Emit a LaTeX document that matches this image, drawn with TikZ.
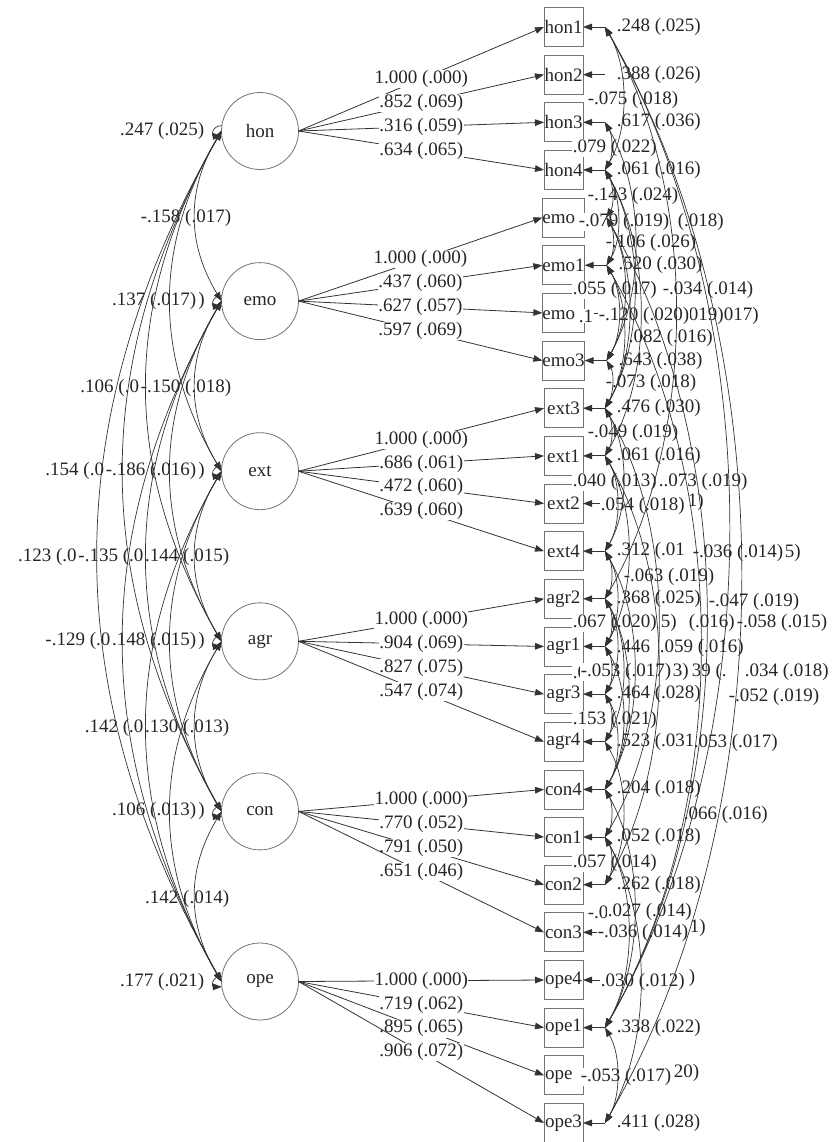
\documentclass[tikz,border=0pt]{standalone}
\usepackage{fontspec}
\setmainfont{Liberation Serif}
\usetikzlibrary{positioning, arrows.meta}

\begin{document}
\begin{tikzpicture}[
    x=0.5pt, y=0.5pt,
    >={Triangle[length=4.5pt, width=3.3pt]},
    font=\fontsize{9.5}{11}\selectfont,
    lat/.style={circle, draw=black!55, line width=0.4pt, minimum size=38.5pt,
    inner sep=0pt, outer sep=0pt, text=black!85},
    ind/.style={rectangle, draw=black!55, line width=0.4pt, minimum size=19.5pt,
    inner sep=0pt, outer sep=0pt, text=black!85},
    lbl/.style={fill=white, inner sep=0.25pt, text=black!85},
    load/.style={->, draw=black!80, line width=0.4pt},
    cov/.style={<->, draw=black!80, line width=0.35pt},
    selfloop/.style={->, draw=black!80, line width=0.35pt}
]
\useasboundingbox (0,0) rectangle (832,-1142);

% latent factors
\node[lat] (hon) at (260,-131) {hon};
\node[lat, below=46.55pt of hon] (emo) {emo};
\node[lat, below=46.55pt of emo] (ext) {ext};
\node[lat, below=46.55pt of ext] (agr) {agr};
\node[lat, below=46.55pt of agr] (con) {con};
\node[lat, below=46.55pt of con] (ope) {ope};

% indicators
\node[ind] (hon1) at (563.5,-27) {hon1};
\node[ind, below=4.325pt of hon1] (hon2) {hon2};
\node[ind, below=4.325pt of hon2] (hon3) {hon3};
\node[ind, below=4.325pt of hon3] (hon4) {hon4};
\node[ind, below=4.325pt of hon4] (emo4) {emo\phantom{4}};
\node[ind, below=4.325pt of emo4] (emo1) {emo1};
\node[ind, below=4.325pt of emo1] (emo2) {emo\phantom{2}};
\node[ind, below=4.325pt of emo2] (emo3) {emo3};
\node[ind, below=4.325pt of emo3] (ext3) {ext3};
\node[ind, below=4.325pt of ext3] (ext1) {ext1};
\node[ind, below=4.325pt of ext1] (ext2) {ext2};
\node[ind, below=4.325pt of ext2] (ext4) {ext4};
\node[ind, below=4.325pt of ext4] (agr2) {agr2};
\node[ind, below=4.325pt of agr2] (agr1) {agr1};
\node[ind, below=4.325pt of agr1] (agr3) {agr3};
\node[ind, below=4.325pt of agr3] (agr4) {agr4};
\node[ind, below=4.325pt of agr4] (con4) {con4};
\node[ind, below=4.325pt of con4] (con1) {con1};
\node[ind, below=4.325pt of con1] (con2) {con2};
\node[ind, below=4.325pt of con2] (con3) {con3};
\node[ind, below=4.325pt of con3] (ope4) {ope4};
\node[ind, below=4.325pt of ope4] (ope1) {ope1};
\node[ind, below=4.325pt of ope1] (ope2) {ope\phantom{2}};
\node[ind, below=4.325pt of ope2] (ope3) {ope3};

% loadings
\draw[load] (hon.east) -- node[lbl] {1.000 (.000)} (hon1.west);
\draw[load] (hon.east) -- node[lbl] {.852 (.069)} (hon2.west);
\draw[load] (hon.east) -- node[lbl] {.316 (.059)} (hon3.west);
\draw[load] (hon.east) -- node[lbl] {.634 (.065)} (hon4.west);
\draw[load] (emo.east) -- node[lbl] {1.000 (.000)} (emo4.west);
\draw[load] (emo.east) -- node[lbl] {.437 (.060)} (emo1.west);
\draw[load] (emo.east) -- node[lbl] {.627 (.057)} (emo2.west);
\draw[load] (emo.east) -- node[lbl] {.597 (.069)} (emo3.west);
\draw[load] (ext.east) -- node[lbl] {1.000 (.000)} (ext3.west);
\draw[load] (ext.east) -- node[lbl] {.686 (.061)} (ext1.west);
\draw[load] (ext.east) -- node[lbl] {.472 (.060)} (ext2.west);
\draw[load] (ext.east) -- node[lbl] {.639 (.060)} (ext4.west);
\draw[load] (agr.east) -- node[lbl] {1.000 (.000)} (agr2.west);
\draw[load] (agr.east) -- node[lbl] {.904 (.069)} (agr1.west);
\draw[load] (agr.east) -- node[lbl] {.827 (.075)} (agr3.west);
\draw[load] (agr.east) -- node[lbl] {.547 (.074)} (agr4.west);
\draw[load] (con.east) -- node[lbl] {1.000 (.000)} (con4.west);
\draw[load] (con.east) -- node[lbl] {.770 (.052)} (con1.west);
\draw[load] (con.east) -- node[lbl] {.791 (.050)} (con2.west);
\draw[load] (con.east) -- node[lbl] {.651 (.046)} (con3.west);
\draw[load] (ope.east) -- node[lbl] {1.000 (.000)} (ope4.west);
\draw[load] (ope.east) -- node[lbl] {.719 (.062)} (ope1.west);
\draw[load] (ope.east) -- node[lbl] {.895 (.065)} (ope2.west);
\draw[load] (ope.east) -- node[lbl] {.906 (.072)} (ope3.west);

% factor variances
\draw[selfloop] (hon.172) to[out=180, in=180, looseness=2.5] (hon.188);
\draw[selfloop] (emo.172) to[out=180, in=180, looseness=2.5] (emo.188);
\draw[selfloop] (ext.172) to[out=180, in=180, looseness=2.5] (ext.188);
\draw[selfloop] (agr.172) to[out=180, in=180, looseness=2.5] (agr.188);
\draw[selfloop] (con.172) to[out=180, in=180, looseness=2.5] (con.188);
\draw[selfloop] (ope.172) to[out=180, in=180, looseness=2.5] (ope.188);

% factor labels, left column
\node[lbl, anchor=east] (vhon) at (205,-131) {.247 (.025)};
\node[lbl, anchor=east] (chonemo) at (232,-218) {-.158 (.017)};
\node[lbl, anchor=east] (chonext) at (197,-301) {.137 (.017)};
\node[lbl, right=0.25pt of chonext] (vemo) {)};
\node[lbl, anchor=east] (cemoext) at (232,-388) {-.150 (.018)};
\node[lbl, left=0pt of cemoext] (chonagr) {.106 (.0};
\node[lbl, anchor=east] (cemoagr) at (197,-471) {-.186 (.016)};
\node[lbl, left=0pt of cemoagr] (choncon) {.154 (.0};
\node[lbl, right=0.25pt of cemoagr] (vext) {)};
\node[lbl, anchor=east] (cextagr) at (230,-557) {.144 (.015)};
\node[lbl, left=0pt of cextagr] (cemocon) {-.135 (.0};
\node[lbl, left=0pt of cemocon] (chonope) {.123 (.0};
\node[lbl, anchor=east] (cextcon) at (197,-641) {.148 (.015)};
\node[lbl, left=0pt of cextcon] (cemoope) {-.129 (.0};
\node[lbl, right=0.25pt of cextcon] (vagr) {)};
\node[lbl, anchor=east] (cagrcon) at (230,-728) {.130 (.013)};
\node[lbl, left=0pt of cagrcon] (cextope) {.142 (.0};
\node[lbl, anchor=east] (cagrope) at (197,-811) {.106 (.013)};
\node[lbl, right=0.25pt of cagrope] (vcon) {)};
\node[lbl, anchor=east] (cconope) at (230,-899) {.142 (.014)};
\node[lbl, anchor=east] (vope) at (205,-981.5) {.177 (.021)};

% factor covariances
\draw[cov] (hon.west) .. controls +(-35,-58) and +(-35,58) .. (emo.west);
\draw[cov] (hon.west) .. controls +(-68,-115) and +(-68,115) .. (ext.west);
\draw[cov] (hon.west) .. controls +(-100,-173) and +(-100,173) .. (agr.west);
\draw[cov] (hon.west) .. controls +(-131,-231) and +(-131,231) .. (con.west);
\draw[cov] (hon.west) .. controls +(-165,-288) and +(-165,288) .. (ope.west);
\draw[cov] (emo.west) .. controls +(-35,-58) and +(-35,58) .. (ext.west);
\draw[cov] (emo.west) .. controls +(-68,-115) and +(-68,115) .. (agr.west);
\draw[cov] (emo.west) .. controls +(-100,-173) and +(-100,173) .. (con.west);
\draw[cov] (emo.west) .. controls +(-131,-231) and +(-131,231) .. (ope.west);
\draw[cov] (ext.west) .. controls +(-35,-58) and +(-35,58) .. (agr.west);
\draw[cov] (ext.west) .. controls +(-68,-115) and +(-68,115) .. (con.west);
\draw[cov] (ext.west) .. controls +(-100,-173) and +(-100,173) .. (ope.west);
\draw[cov] (agr.west) .. controls +(-35,-58) and +(-35,58) .. (con.west);
\draw[cov] (agr.west) .. controls +(-68,-115) and +(-68,115) .. (ope.west);
\draw[cov] (con.west) .. controls +(-35,-58) and +(-35,58) .. (ope.west);

% residual variances
\draw[load] ([xshift=11pt]hon1.east) coordinate (hon1r) -- (hon1.east);
\draw[load] ([xshift=11pt]hon2.east) coordinate (hon2r) -- (hon2.east);
\draw[load] ([xshift=11pt]hon3.east) coordinate (hon3r) -- (hon3.east);
\draw[load] ([xshift=11pt]hon4.east) coordinate (hon4r) -- (hon4.east);
\draw[load] ([xshift=11pt]emo4.east) coordinate (emo4r) -- (emo4.east);
\draw[load] ([xshift=11pt]emo1.east) coordinate (emo1r) -- (emo1.east);
\draw[load] ([xshift=11pt]emo2.east) coordinate (emo2r) -- (emo2.east);
\draw[load] ([xshift=11pt]emo3.east) coordinate (emo3r) -- (emo3.east);
\draw[load] ([xshift=11pt]ext3.east) coordinate (ext3r) -- (ext3.east);
\draw[load] ([xshift=11pt]ext1.east) coordinate (ext1r) -- (ext1.east);
\draw[load] ([xshift=11pt]ext2.east) coordinate (ext2r) -- (ext2.east);
\draw[load] ([xshift=11pt]ext4.east) coordinate (ext4r) -- (ext4.east);
\draw[load] ([xshift=11pt]agr2.east) coordinate (agr2r) -- (agr2.east);
\draw[load] ([xshift=11pt]agr1.east) coordinate (agr1r) -- (agr1.east);
\draw[load] ([xshift=11pt]agr3.east) coordinate (agr3r) -- (agr3.east);
\draw[load] ([xshift=11pt]agr4.east) coordinate (agr4r) -- (agr4.east);
\draw[load] ([xshift=11pt]con4.east) coordinate (con4r) -- (con4.east);
\draw[load] ([xshift=11pt]con1.east) coordinate (con1r) -- (con1.east);
\draw[load] ([xshift=11pt]con2.east) coordinate (con2r) -- (con2.east);
\draw[load] ([xshift=11pt]con3.east) coordinate (con3r) -- (con3.east);
\draw[load] ([xshift=11pt]ope4.east) coordinate (ope4r) -- (ope4.east);
\draw[load] ([xshift=11pt]ope1.east) coordinate (ope1r) -- (ope1.east);
\draw[load] ([xshift=11pt]ope2.east) coordinate (ope2r) -- (ope2.east);
\draw[load] ([xshift=11pt]ope3.east) coordinate (ope3r) -- (ope3.east);

% residual variance labels
\node[lbl, right=5.5pt of hon1r] (vhon1) {.248 (.025)};
\node[lbl, right=5.5pt of hon2r] (vhon2) {.388 (.026)};
\node[lbl, right=5.5pt of hon3r] (vhon3) {.617 (.036)};
\node[lbl, right=5.5pt of hon4r] (vhon4) {.061 (.016)};
\node[lbl, right=5.5pt of emo1r] (vemo1) {.520 (.030)};
\node[lbl, right=5.5pt of emo3r] (vemo3) {.643 (.038)};
\node[lbl, right=5.5pt of ext3r] (vext3) {.476 (.030)};
\node[lbl, right=5.5pt of ext1r] (vext1) {.061 (.016)};
\node[lbl, right=5.5pt of ext4r] (vext4) {.312 (.01};
\node[lbl, right=5.5pt of agr2r] (vagr2) {.368 (.025)};
\node[lbl, right=5.5pt of agr1r] (vagr1) {.446};
\node[lbl, right=5.5pt of agr3r] (vagr3) {.464 (.028)};
\node[lbl, right=5.5pt of agr4r] (vagr4) {.523 (.031};
\node[lbl, right=5.5pt of con4r] (vcon4) {.204 (.018)};
\node[lbl, right=5.5pt of con1r] (vcon1) {.052 (.018)};
\node[lbl, right=5.5pt of con2r] (vcon2) {.262 (.018)};
\node[lbl, right=5.5pt of ope1r] (vope1) {.338 (.022)};
\node[lbl, right=5.5pt of ope3r] (vope3) {.411 (.028)};

% residual covariance labels
\node[lbl, anchor=west] (r3) at (587,-100) {-.075 (.018)};
\node[lbl, anchor=west] (r5) at (572,-148) {.079 (.022)};
\node[lbl, anchor=west] (r7) at (587,-196) {-.143 (.024)};
\node[lbl, anchor=west] (r8b) at (677,-222) {(.018)};
\node[lbl, anchor=west] (r8a) at (578,-222) {-.079 (.019)};
\node[lbl, anchor=west] (r9) at (605,-243) {-.106 (.026)};
\node[lbl, anchor=west] (r11a) at (572,-290) {.055 (.017)};
\node[lbl, anchor=west] (r11b) at (662,-290) {-.034 (.014)};
\node[lbl, anchor=west] (r12a) at (578,-316) {.1};
\node[lbl, anchor=west] (r12d) at (723,-316) {017)};
\node[lbl, anchor=west] (r12c) at (688,-316) {019)};
\node[lbl, anchor=west] (r12b) at (598,-316) {-.120 (.020)};
\node[lbl, anchor=west] (r13) at (628,-338) {.082 (.016)};
\node[lbl, anchor=west] (r15) at (605,-383) {-.073 (.018)};
\node[lbl, anchor=west] (r17) at (587,-433) {-.049 (.019)};
\node[lbl, anchor=west] (r19a) at (572,-482) {.040 (.013)};
\node[lbl, anchor=west] (r19b) at (658,-482) {..073 (.019)};
\node[lbl, anchor=west] (r20b) at (687,-502) {1)};
\node[lbl, anchor=west] (r20a) at (600,-506) {.054 (.018)};
\node[lbl, anchor=west] (r22a) at (692,-553) {-.036 (.014)};
\node[lbl, right=0pt of r22a] (r22b) {5)};
\node[lbl, anchor=west] (r23) at (623,-577) {-.063 (.019)};
\node[lbl, anchor=west] (r24) at (708,-602) {-.047 (.019)};
\node[lbl, anchor=west] (r25a) at (572,-623) {.067 (.020)};
\node[lbl, anchor=west] (r25b) at (660,-623) {5)};
\node[lbl, anchor=west] (r25c) at (688,-623) {(.016)};
\node[lbl, anchor=west] (r25d) at (736,-623) {-.058 (.015)};
\node[lbl, anchor=west] (r26) at (659,-648) {.059 (.016)};
\node[lbl, anchor=west] (r27a) at (572,-672) {.0};
\node[lbl, anchor=west] (r27b) at (580,-672) {-.053 (.017)};
\node[lbl, anchor=west] (r27c) at (672,-672) {3)};
\node[lbl, anchor=west] (r27d) at (691,-672) {39 (.};
\node[lbl, anchor=west] (r27e) at (744,-672) {.034 (.018)};
\node[lbl, anchor=west] (r28) at (728,-697) {-.052 (.019)};
\node[lbl, anchor=west] (r29) at (572,-720) {.153 (.021)};
\node[lbl, anchor=west] (r30) at (693,-743) {.053 (.017)};
\node[lbl, anchor=west] (r33) at (683,-815) {.066 (.016)};
\node[lbl, anchor=west] (r35) at (572,-863) {.057 (.014)};
\node[lbl, anchor=west] (r37a) at (587,-912) {-.0};
\node[lbl, anchor=west] (r37b) at (607,-912) {.027 (.014)};
\node[lbl, anchor=west] (r38b) at (689,-928) {1)};
\node[lbl, anchor=west] (r38a) at (597,-933) {-.036 (.014)};
\node[lbl, anchor=west] (r40b) at (688,-978) {)};
\node[lbl, anchor=west] (r40a) at (600,-982) {.030 (.012)};
\node[lbl, anchor=west] (r44b) at (673,-1073) {20)};
\node[lbl, anchor=west] (r44a) at (580,-1077) {-.053 (.017)};

% residual covariances
\draw[cov] (hon1r) .. controls +(24,-41) and +(24,41) .. (hon4r);
\draw[cov] (hon3r) .. controls +(8,-14) and +(8,14) .. (hon4r);
\draw[cov] (hon4r) .. controls +(8,-14) and +(8,14) .. (emo4r);
\draw[cov] (hon4r) .. controls +(16,-27) and +(16,27) .. (emo1r);
\draw[cov] (emo4r) .. controls +(8,-14) and +(8,14) .. (emo1r);
\draw[cov] (hon3r) .. controls +(39,-68) and +(39,68) .. (emo3r);
\draw[cov] (emo4r) .. controls +(24,-41) and +(24,41) .. (emo3r);
\draw[cov] (hon4r) .. controls +(39,-68) and +(39,68) .. (ext3r);
\draw[cov] (emo1r) .. controls +(16,-27) and +(16,27) .. (emo3r);
\draw[cov] (emo4r) .. controls +(31,-54) and +(31,54) .. (ext3r);
\draw[cov] (hon1r) .. controls +(94,-163) and +(94,163) .. (agr2r);
\draw[cov] (hon4r) .. controls +(47,-82) and +(47,82) .. (ext1r);
\draw[cov] (emo1r) .. controls +(24,-41) and +(24,41) .. (ext3r);
\draw[cov] (emo3r) .. controls +(8,-14) and +(8,14) .. (ext3r);
\draw[cov] (ext3r) .. controls +(8,-14) and +(8,14) .. (ext1r);
\draw[cov] (ext3r) .. controls +(24,-41) and +(24,41) .. (ext4r);
\draw[cov] (ext1r) .. controls +(16,-27) and +(16,27) .. (ext4r);
\draw[cov] (ext1r) .. controls +(31,-54) and +(31,54) .. (agr1r);
\draw[cov] (ext4r) .. controls +(8,-14) and +(8,14) .. (agr2r);
\draw[cov] (hon1r) .. controls +(181,-313) and +(181,313) .. (ope3r);
\draw[cov] (hon1r) .. controls +(165,-286) and +(165,286) .. (ope1r);
\draw[cov] (ext4r) .. controls +(16,-27) and +(16,27) .. (agr1r);
\draw[cov] (agr2r) .. controls +(8,-14) and +(8,14) .. (agr1r);
\draw[cov] (ext3r) .. controls +(71,-122) and +(71,122) .. (con1r);
\draw[cov] (emo4r) .. controls +(134,-231) and +(134,231) .. (ope1r);
\draw[cov] (agr2r) .. controls +(16,-27) and +(16,27) .. (agr3r);
\draw[cov] (emo1r) .. controls +(126,-218) and +(126,218) .. (ope1r);
\draw[cov] (agr1r) .. controls +(8,-14) and +(8,14) .. (agr3r);
\draw[cov] (agr2r) .. controls +(24,-41) and +(24,41) .. (agr4r);
\draw[cov] (ext1r) .. controls +(71,-122) and +(71,122) .. (con2r);
\draw[cov] (ext4r) .. controls +(39,-68) and +(39,68) .. (con4r);
\draw[cov] (agr2r) .. controls +(31,-54) and +(31,54) .. (con4r);
\draw[cov] (agr3r) .. controls +(8,-14) and +(8,14) .. (agr4r);
\draw[cov] (agr1r) .. controls +(24,-41) and +(24,41) .. (con4r);
\draw[cov] (agr3r) .. controls +(16,-27) and +(16,27) .. (con4r);
\draw[cov] (agr4r) .. controls +(24,-41) and +(24,41) .. (con2r);
\draw[cov] (con4r) .. controls +(8,-14) and +(8,14) .. (con1r);
\draw[cov] (con1r) .. controls +(8,-14) and +(8,14) .. (con2r);
\draw[cov] (con4r) .. controls +(39,-68) and +(39,68) .. (ope1r);
\draw[cov] (con1r) .. controls +(31,-54) and +(31,54) .. (ope1r);
\draw[cov] (con1r) .. controls +(47,-82) and +(47,82) .. (ope3r);
\draw[cov] (ope1r) .. controls +(16,-27) and +(16,27) .. (ope3r);

\end{tikzpicture}
\end{document}
